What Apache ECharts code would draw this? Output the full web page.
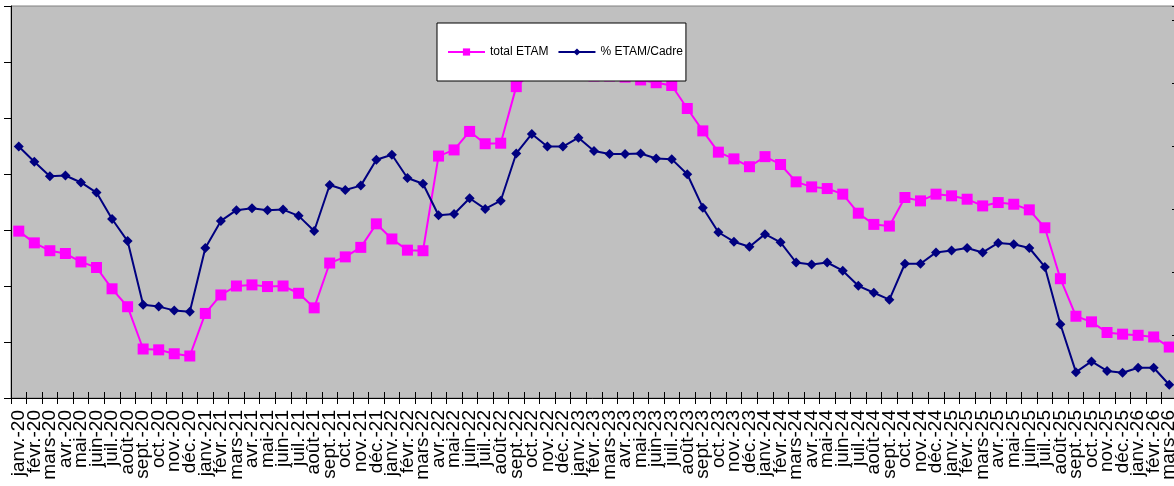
<!DOCTYPE html>
<html>
<head>
<meta charset="utf-8">
<script src="https://cdn.jsdelivr.net/npm/echarts@6/dist/echarts.min.js"></script>
<style>
html,body{margin:0;padding:0;background:#fff;}
#chart{width:1174px;height:486px;}
</style>
</head>
<body>
<div id="chart"></div>
<script>
const months = ['janv.','févr.','mars','avr.','mai','juin','juil.','août','sept.','oct.','nov.','déc.'];
const categories = [
  'janv.-20','févr.-20','mars-20','avr.-20','mai-20','juin-20','juil.-20','août-20','sept.-20','oct.-20','nov.-20','déc.-20',
  'janv.-21','févr.-21','mars-21','avr.-21','mai-21','juin-21','juil.-21','août-21','sept.-21','oct.-21','nov.-21','déc.-21',
  'janv.-22','févr.-22','mars-22','avr.-22','mai-22','juin-22','juil.-22','août-22','sept.-22','oct.-22','nov.-22','déc.-22',
  'janv.-23','févr.-23','mars-23','avr.-23','mai-23','juin-23','juil.-23','août-23','sept.-23','oct.-23','nov.-23','déc.-23',
  'janv.-24','févr.-24','mars-24','avr.-24','mai-24','juin-24','juil.-24','août-24','sept.-24','oct.-24','nov.-24','déc.-24',
  'janv.-25','févr.-25','mars-25','avr.-25','mai-25','juin-25','juil.-25','août-25','sept.-25','oct.-25','nov.-25','déc.-25',
  'janv.-26','févr.-26','mars-26'
];
const totalEtam = [
  29.8,27.7,26.3,25.8,24.3,23.3,19.5,16.3,8.75,8.6,7.9,7.5,
  15.1,18.4,20.0,20.2,19.9,20.0,18.7,16.1,24.1,25.2,26.9,31.1,
  28.4,26.4,26.3,43.2,44.3,47.6,45.4,45.5,55.6,58.2,58.9,58.6,
  58.0,57.5,57.5,57.3,56.8,56.3,55.8,51.7,47.7,43.9,42.7,41.3,
  43.1,41.7,38.6,37.7,37.4,36.4,33.0,31.0,30.7,35.8,35.2,36.4,
  36.1,35.5,34.3,34.9,34.6,33.6,30.4,21.3,14.6,13.6,11.7,11.4,
  11.2,10.9,9.1
];
const pctEtamCadre = [
  39.9,37.5,35.2,35.3,34.2,32.6,28.4,24.9,14.8,14.5,13.9,13.7,
  23.8,28.1,29.8,30.1,29.8,29.9,28.9,26.5,33.8,33.0,33.7,37.8,
  38.6,34.9,34.0,29.0,29.2,31.7,30.0,31.3,38.8,41.9,39.9,39.9,
  41.3,39.2,38.7,38.7,38.8,38.0,37.9,35.5,30.2,26.3,24.8,24.0,
  26.0,24.7,21.5,21.2,21.5,20.2,17.8,16.7,15.6,21.3,21.3,23.1,
  23.4,23.8,23.1,24.6,24.4,23.8,20.8,11.7,4.1,5.8,4.3,4.0,
  4.8,4.8,2.1
];
const leftTicks = {min: 0, max: 70, interval: 10};
const rightTicks = {min: 0, max: 62.2, interval: 10};

const FONT = "'Liberation Sans', Arial, sans-serif";
const chart = echarts.init(document.getElementById('chart'), null, {renderer: 'canvas'});
chart.setOption({
  animation: false,
  backgroundColor: '#ffffff',
  textStyle: {fontFamily: FONT},
  legend: {
    left: 437, top: 23,
    padding: [22, 3, 22, 10],
    itemGap: 9,
    itemWidth: 37,
    itemHeight: 9,
    backgroundColor: '#ffffff',
    borderColor: '#000000',
    borderWidth: 1,
    borderRadius: 0,
    textStyle: {fontFamily: FONT, fontSize: 12, color: '#000', lineHeight: 14},
    data: ['total ETAM', '% ETAM/Cadre']
  },
  grid: {
    left: 11, right: -3, top: 6, bottom: 88,
    show: true,
    backgroundColor: '#C0C0C0',
    borderColor: '#808080',
    borderWidth: 1,
    outerBoundsMode: 'none',
    containLabel: false
  },
  xAxis: [{
    type: 'category',
    data: categories,
    boundaryGap: true,
    axisLine: {show: true, lineStyle: {color: '#000', width: 1}},
    axisTick: {show: true, inside: false, length: 6, interval: 0, lineStyle: {color: '#000'}},
    axisLabel: {interval: 0, rotate: 90, margin: 12, fontSize: 19, color: '#000', fontFamily: FONT},
    splitLine: {show: false}
  }, {
    type: 'category',
    data: categories,
    position: 'bottom',
    boundaryGap: true,
    axisLine: {show: false},
    axisTick: {show: true, inside: true, length: 6, interval: 0, lineStyle: {color: '#000'}},
    axisLabel: {show: false},
    splitLine: {show: false}
  }],
  yAxis: [{
    type: 'value',
    position: 'left',
    min: leftTicks.min, max: leftTicks.max, interval: leftTicks.interval,
    axisLine: {show: true, lineStyle: {color: '#000', width: 1}},
    axisTick: {show: true, inside: false, length: 7, lineStyle: {color: '#000'}},
    axisLabel: {show: false},
    splitLine: {show: false}
  }, {
    type: 'value',
    position: 'right',
    min: rightTicks.min, max: rightTicks.max, interval: rightTicks.interval,
    axisLine: {show: true, lineStyle: {color: '#000', width: 1}},
    axisTick: {show: true, inside: true, length: 5, lineStyle: {color: '#000'}},
    axisLabel: {show: false},
    splitLine: {show: false}
  }],
  series: [{
    name: 'total ETAM',
    type: 'line',
    xAxisIndex: 0,
    yAxisIndex: 0,
    data: totalEtam,
    symbol: 'rect',
    symbolSize: 11,
    showAllSymbol: true,
    itemStyle: {color: '#FF00FF'},
    lineStyle: {color: '#FF00FF', width: 2}
  }, {
    name: '% ETAM/Cadre',
    type: 'line',
    xAxisIndex: 0,
    yAxisIndex: 1,
    data: pctEtamCadre,
    symbol: 'diamond',
    symbolSize: 10,
    showAllSymbol: true,
    itemStyle: {color: '#000080'},
    lineStyle: {color: '#000080', width: 2}
  }]
});
</script>
</body>
</html>
